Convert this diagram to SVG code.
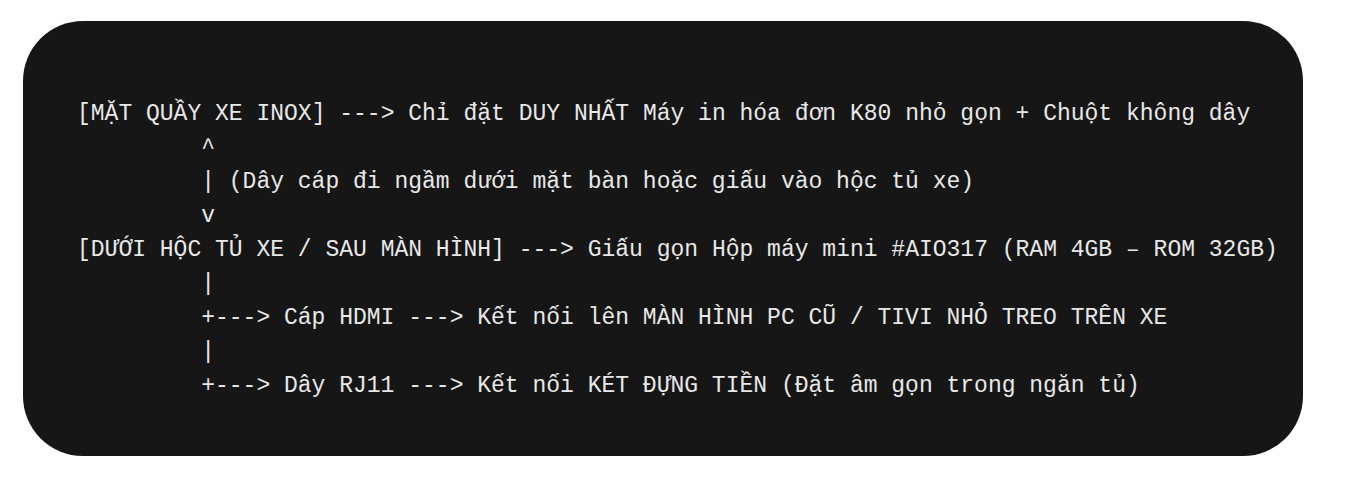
<svg xmlns="http://www.w3.org/2000/svg" width="1369" height="478" viewBox="0 0 1369 478">
<style>
.t{font-family:"Liberation Mono","DejaVu Sans Mono",monospace;font-size:23px;fill:#e8e8e8;white-space:pre}
</style>
<rect width="1369" height="478" fill="#ffffff"/>
<rect x="23" y="21" width="1280" height="435" rx="60" ry="60" fill="#161616"/>
<g id="code">
<text class="t" x="77" y="119.5">[MẶT QUẦY XE INOX] ---&gt; Chỉ đặt DUY NHẤT Máy in hóa đơn K80 nhỏ gọn + Chuột không dây</text>
<text class="t" x="201.2" y="153.6">^</text>
<text class="t" x="201.2" y="187.7">| (Dây cáp đi ngầm dưới mặt bàn hoặc giấu vào hộc tủ xe)</text>
<text class="t" x="201.2" y="221.8">v</text>
<text class="t" x="77" y="256">[DƯỚI HỘC TỦ XE / SAU MÀN HÌNH] ---&gt; Giấu gọn Hộp máy mini #AIO317 (RAM 4GB – ROM 32GB)</text>
<text class="t" x="201.2" y="290">|</text>
<text class="t" x="201.2" y="324">+---&gt; Cáp HDMI ---&gt; Kết nối lên MÀN HÌNH PC CŨ / TIVI NHỎ TREO TRÊN XE</text>
<text class="t" x="201.2" y="358">|</text>
<text class="t" x="201.2" y="392">+---&gt; Dây RJ11 ---&gt; Kết nối KÉT ĐỰNG TIỀN (Đặt âm gọn trong ngăn tủ)</text>
</g>
</svg>
